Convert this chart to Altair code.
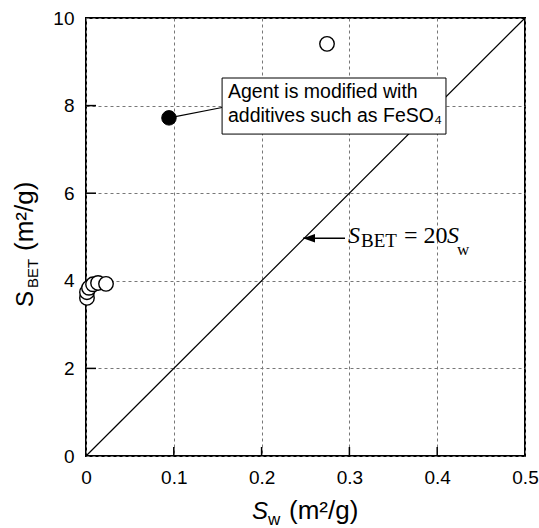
import altair as alt
import pandas as pd

# ---- data ----
open_x = [0.0011, 0.0011, 0.0034, 0.0080, 0.0137, 0.0228, 0.2745]
open_y = [3.61, 3.74, 3.84, 3.92, 3.95, 3.93, 9.41]
filled_x = [0.0945]
filled_y = [7.72]
line_x = [0.0, 0.5]
line_y = [0.0, 10.0]
x_ticks = [0.0, 0.1, 0.2, 0.3, 0.4, 0.5]
y_ticks = [0, 2, 4, 6, 8, 10]
inner_x_ticks = [0.1, 0.2, 0.3, 0.4]
inner_y_ticks = [2, 4, 6, 8]

# annotation (callout box) in data units
box_x = [0.155]
box_x2 = [0.41]
box_y = [8.63]
box_y2 = [7.35]
box_lines = ["Agent is modified with", "additives such as FeSO\u2084"]
box_line_x = [0.1617, 0.1617]
box_line_y = [8.174, 7.626]
conn_x = [0.0945, 0.155]
conn_y = [7.72, 7.956]

# equation annotation
arrow_x = [0.2472, 0.295]
arrow_y = [4.97, 4.97]
head_x = [0.254]
head_y = [4.97]
eq_parts = ["S", "BET", "= 20", "S", "w"]
eq_x = [0.2984, 0.3132, 0.3622, 0.4112, 0.4226]
eq_y = [4.863, 4.783, 4.863, 4.863, 4.589]
eq_size = [24, 19, 24, 24, 17]
eq_style = ["italic", "normal", "normal", "italic", "normal"]

W, H = 439, 438
SANS = "Liberation Sans"
SERIF = "Liberation Serif"

xs = alt.Scale(domain=[0, 0.5], nice=False, zero=False)
ys = alt.Scale(domain=[0, 10], nice=False, zero=False)

x_axis = alt.Axis(
    values=x_ticks, format=".1~f", title=None, ticks=False, tickSize=0,
    domain=False, labelPadding=12, labelFontSize=19, labelFont=SANS,
    labelColor="black", labelFlush=False, labelOverlap=False,
    grid=True, gridDash=[3, 3], gridColor="#777", gridWidth=1)
y_axis = alt.Axis(
    values=y_ticks, format="d", title=None, ticks=False, tickSize=0,
    domain=False, labelPadding=12, labelFontSize=19, labelFont=SANS,
    labelColor="black", labelFlush=False, labelOverlap=False,
    grid=True, gridDash=[3, 3], gridColor="#777", gridWidth=1)


def XQ():
    return alt.X("x:Q", scale=xs, axis=x_axis, title=None)


def YQ():
    return alt.Y("y:Q", scale=ys, axis=y_axis, title=None)


diag = alt.Chart(pd.DataFrame({"x": line_x, "y": line_y})).mark_line(
    color="black", strokeWidth=1.2
).encode(x=XQ(), y=YQ())

xt = alt.Chart(pd.DataFrame({"x": inner_x_ticks})).mark_rule(
    color="black", strokeWidth=1.5
).encode(x=XQ(), y=alt.value(H), y2=alt.value(H - 9))

yt = alt.Chart(pd.DataFrame({"y": inner_y_ticks})).mark_rule(
    color="black", strokeWidth=1.5
).encode(y=YQ(), x=alt.value(0), x2=alt.value(10))

conn = alt.Chart(pd.DataFrame({"x": conn_x, "y": conn_y})).mark_line(
    color="black", strokeWidth=1.2
).encode(x=XQ(), y=YQ())

box = alt.Chart(pd.DataFrame({"x": box_x, "x2": box_x2, "y": box_y, "y2": box_y2})).mark_rect(
    fill="white", stroke="black", strokeWidth=1
).encode(x=XQ(), x2="x2:Q", y=YQ(), y2="y2:Q")

box_text = alt.Chart(pd.DataFrame({"x": box_line_x, "y": box_line_y, "t": box_lines})).mark_text(
    align="left", baseline="alphabetic", font=SANS, fontSize=19.5, color="black"
).encode(x=XQ(), y=YQ(), text="t:N")

opens = alt.Chart(pd.DataFrame({"x": open_x, "y": open_y})).mark_point(
    shape="circle", filled=False, fill="white", fillOpacity=1, stroke="black",
    strokeWidth=1.4, size=210, opacity=1
).encode(x=XQ(), y=YQ())

filled = alt.Chart(pd.DataFrame({"x": filled_x, "y": filled_y})).mark_point(
    shape="circle", filled=True, fill="black", stroke="black", strokeWidth=1,
    size=210, opacity=1
).encode(x=XQ(), y=YQ())

arrow = alt.Chart(pd.DataFrame({"x": arrow_x, "y": arrow_y})).mark_line(
    color="black", strokeWidth=1.4
).encode(x=XQ(), y=YQ())

head = alt.Chart(pd.DataFrame({"x": head_x, "y": head_y})).mark_point(
    shape="M-1,0 L1,-0.7 L1,0.7 Z", filled=True, fill="black", size=144, opacity=1
).encode(x=XQ(), y=YQ())

eq_layers = []
for t, x, y, s, st in zip(eq_parts, eq_x, eq_y, eq_size, eq_style):
    eq_layers.append(
        alt.Chart(pd.DataFrame({"x": [x], "y": [y], "t": [t]})).mark_text(
            align="left", baseline="alphabetic", font=SERIF, fontSize=s,
            fontStyle=st, color="black"
        ).encode(x=XQ(), y=YQ(), text="t:N")
    )


# axis titles (pixel placement relative to plot area)
def txt(t, x, y, size, style="normal", angle=0):
    return alt.Chart(pd.DataFrame({"t": [t]})).mark_text(
        align="left", baseline="alphabetic", font=SANS, fontSize=size,
        fontStyle=style, angle=angle, color="black"
    ).encode(text="t:N", x=alt.value(x), y=alt.value(y))


title_layers = [
    txt("S", 166, 501, 24, "italic"), txt("w", 182, 507, 17),
    txt("(m\u00b2/g)", 203, 501, 26),
    txt("S", -53, 289, 24, angle=270), txt("BET", -48, 270, 15, angle=270),
    txt("(m\u00b2/g)", -53, 233, 26, angle=270),
]

chart = alt.layer(
    diag, xt, yt, conn, box, box_text, opens, filled, arrow, head,
    *eq_layers, *title_layers
).properties(
    width=W, height=H,
    padding={"left": 86, "top": 18, "right": 14, "bottom": 72},
    autosize=alt.AutoSizeParams(type="none"),
    background="white",
).configure_view(stroke="black", strokeWidth=2)

chart.save("out.html", embed_options={"renderer": "svg", "actions": False})
